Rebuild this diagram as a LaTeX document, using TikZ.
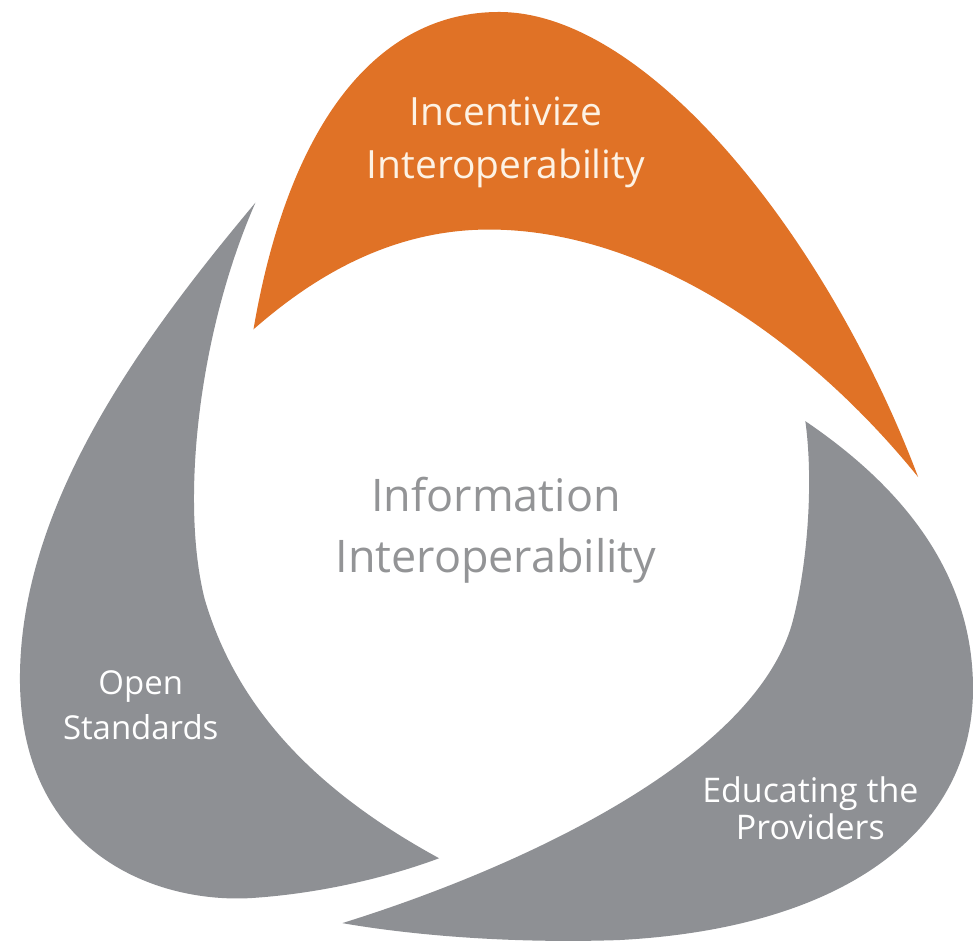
\documentclass[tikz,border=0pt]{standalone}
\usepackage{fontspec}
\setmainfont{Open Sans}
\usepackage{xcolor}
\usepackage{tikz}

\definecolor{ioorange}{RGB}{224,114,38}
\definecolor{iogray}{RGB}{142,144,148}
\definecolor{iotext}{RGB}{147,148,150}
\definecolor{iocream}{RGB}{253,242,228}

\begin{document}
\begin{tikzpicture}[x=1pt,y=-1pt]
  \tikzset{PetalStyle/.style={fill=#1,draw=none},
           LabelStyle/.style={align=center,text=#1,inner sep=0pt}}
  \fill[white] (0,0) rectangle (973,940);

  % incentivize
  \fill[PetalStyle=ioorange] (254,330) .. controls (290,120) and (380,12) .. (500,12)
     .. controls (650,12) and (830,240) .. (920,478)
     .. controls (800,330) and (640,230) .. (490,230)
     .. controls (380,230) and (300,290) .. (254,330) -- cycle;

  % open standards
  \fill[PetalStyle=iogray] (256,203) .. controls (150,330) and (20,500) .. (20,680)
     .. controls (20,850) and (150,905) .. (250,900)
     .. controls (330,895) and (400,875) .. (440,860)
     .. controls (330,800) and (240,720) .. (205,600)
     .. controls (180,500) and (200,330) .. (256,203) -- cycle;

  % educating the providers
  \fill[PetalStyle=iogray] (807,422) .. controls (885,475) and (975,560) .. (975,690)
     .. controls (975,830) and (850,930) .. (620,942)
     .. controls (500,946) and (400,935) .. (343,925)
     .. controls (520,870) and (760,760) .. (795,620)
     .. controls (810,560) and (815,480) .. (807,422) -- cycle;

  \node[LabelStyle=iocream, font=\fontsize{39}{53}\selectfont] (incent) at (507,143) {Incentivize\\Interoperability};
  \node[LabelStyle=white, font=\fontsize{33}{45}\selectfont] (open) at (141,707) {Open\\Standards};
  \node[LabelStyle=white, font=\fontsize{34}{37}\selectfont] (educ) at (812,810) {Educating the\\Providers};

  % middle
  \node[LabelStyle=iotext, font=\fontsize{45}{61}\selectfont] (info) at (497,531) {Information\\Interoperability};
\end{tikzpicture}
\end{document}
